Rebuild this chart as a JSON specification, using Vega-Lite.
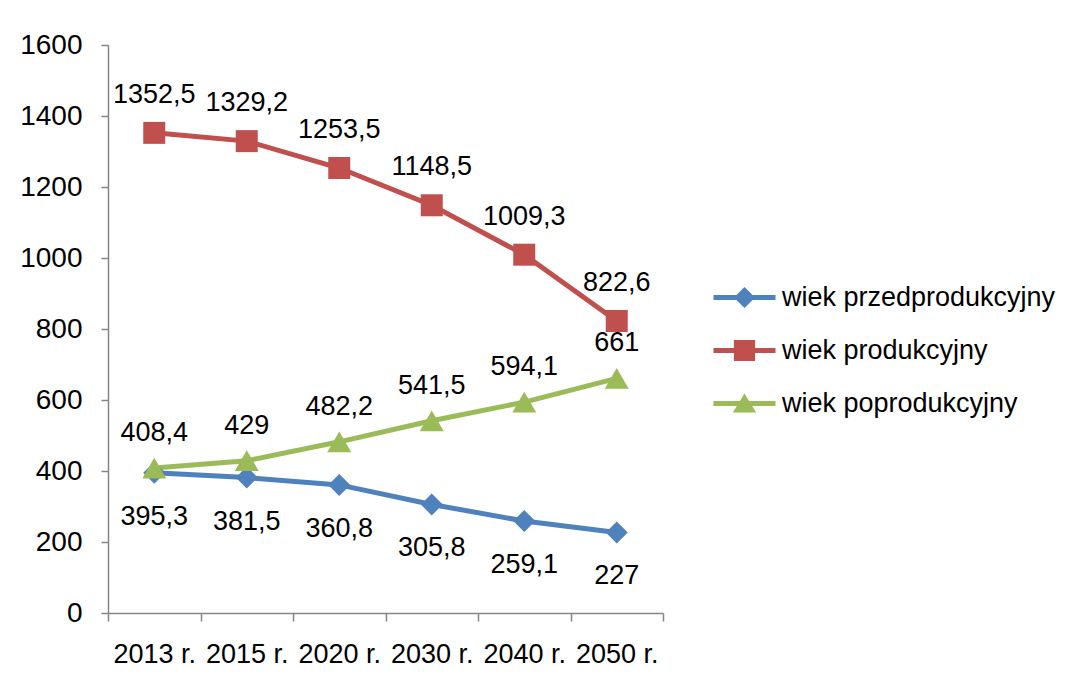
{
  "$schema": "https://vega.github.io/schema/vega-lite/v6.json",
  "width": 555,
  "height": 568,
  "autosize": {"type": "none"},
  "padding": {"left": 108, "top": 45, "right": 412, "bottom": 64},
  "background": "white",
  "config": {
    "view": {"stroke": null},
    "locale": {"number": {"decimal": ",", "thousands": "", "grouping": [3], "currency": ["", ""]}},
    "font": "Liberation Sans"
  },
  "data": {
    "values": [
      {"rok": "2013 r.", "grupa": "wiek przedprodukcyjny", "wartosc": 395.3},
      {"rok": "2015 r.", "grupa": "wiek przedprodukcyjny", "wartosc": 381.5},
      {"rok": "2020 r.", "grupa": "wiek przedprodukcyjny", "wartosc": 360.8},
      {"rok": "2030 r.", "grupa": "wiek przedprodukcyjny", "wartosc": 305.8},
      {"rok": "2040 r.", "grupa": "wiek przedprodukcyjny", "wartosc": 259.1},
      {"rok": "2050 r.", "grupa": "wiek przedprodukcyjny", "wartosc": 227},
      {"rok": "2013 r.", "grupa": "wiek produkcyjny", "wartosc": 1352.5},
      {"rok": "2015 r.", "grupa": "wiek produkcyjny", "wartosc": 1329.2},
      {"rok": "2020 r.", "grupa": "wiek produkcyjny", "wartosc": 1253.5},
      {"rok": "2030 r.", "grupa": "wiek produkcyjny", "wartosc": 1148.5},
      {"rok": "2040 r.", "grupa": "wiek produkcyjny", "wartosc": 1009.3},
      {"rok": "2050 r.", "grupa": "wiek produkcyjny", "wartosc": 822.6},
      {"rok": "2013 r.", "grupa": "wiek poprodukcyjny", "wartosc": 408.4},
      {"rok": "2015 r.", "grupa": "wiek poprodukcyjny", "wartosc": 429},
      {"rok": "2020 r.", "grupa": "wiek poprodukcyjny", "wartosc": 482.2},
      {"rok": "2030 r.", "grupa": "wiek poprodukcyjny", "wartosc": 541.5},
      {"rok": "2040 r.", "grupa": "wiek poprodukcyjny", "wartosc": 594.1},
      {"rok": "2050 r.", "grupa": "wiek poprodukcyjny", "wartosc": 661}
    ]
  },
  "encoding": {
    "x": {
      "field": "rok",
      "type": "nominal",
      "sort": null,
      "scale": {"type": "band", "paddingInner": 0, "paddingOuter": 0},
      "axis": {
        "title": null,
        "labelAngle": 0,
        "tickBand": "extent",
        "domainColor": "#868686",
        "tickColor": "#868686",
        "domainWidth": 1.5,
        "tickWidth": 1.5,
        "tickSize": 8,
        "labelPadding": 20,
        "labelFontSize": 27,
        "labelFont": "Liberation Sans",
        "labelColor": "#000000",
        "labelOverlap": false,
        "labelBaseline": "top"
      }
    },
    "y": {
      "field": "wartosc",
      "type": "quantitative",
      "scale": {"domain": [0, 1600], "nice": false},
      "axis": {
        "title": null,
        "values": [0, 200, 400, 600, 800, 1000, 1200, 1400, 1600],
        "format": "d",
        "grid": false,
        "domainColor": "#868686",
        "tickColor": "#868686",
        "domainWidth": 1.5,
        "tickWidth": 1.5,
        "tickSize": 7,
        "labelPadding": 19,
        "labelFontSize": 28,
        "labelFont": "Liberation Sans",
        "labelColor": "#000000"
      }
    }
  },
  "layer": [
    {
      "mark": {"type": "line", "strokeWidth": 5},
      "encoding": {
        "color": {
          "field": "grupa",
          "type": "nominal",
          "sort": null,
          "scale": {
            "domain": ["wiek przedprodukcyjny", "wiek produkcyjny", "wiek poprodukcyjny"],
            "range": ["#4F81BD", "#C0504D", "#9BBB59"]
          },
          "legend": {
            "title": null,
            "orient": "none",
            "legendX": 610,
            "legendY": 226,
            "padding": 0,
            "rowPadding": 13,
            "symbolSize": 2809,
            "labelOffset": 11,
            "labelFontSize": 27,
            "labelFont": "Liberation Sans",
            "labelColor": "#000000",
            "labelLimit": 400,
            "encode": {
              "symbols": {
                "update": {
                  "shape": {"signal": "datum.value === 'wiek przedprodukcyjny' ? 'M-1.17,-0.094L1.17,-0.094L1.17,0.094L-1.17,0.094Z M0,-0.4L0.4,0L0,0.4L-0.4,0Z' : datum.value === 'wiek produkcyjny' ? 'M-1.17,-0.094L1.17,-0.094L1.17,0.094L-1.17,0.094Z M-0.4,-0.4L0.4,-0.4L0.4,0.4L-0.4,0.4Z' : 'M-1.17,-0.094L1.17,-0.094L1.17,0.094L-1.17,0.094Z M0,-0.38L0.44,0.34L-0.44,0.34Z'"},
                  "size": {"value": 2809},
                  "fill": {"signal": "scale('color', datum.value)"},
                  "fillOpacity": {"value": 1},
                  "stroke": {"value": "transparent"},
                  "strokeWidth": {"value": 0},
                  "opacity": {"value": 1}
                }
              }
            }
          }
        }
      }
    },
    {
      "transform": [{"filter": "datum.grupa === 'wiek przedprodukcyjny'"}],
      "mark": {"type": "point", "filled": true, "opacity": 1, "shape": "diamond", "size": 484},
      "encoding": {"color": {"field": "grupa", "type": "nominal", "legend": null}}
    },
    {
      "transform": [{"filter": "datum.grupa === 'wiek produkcyjny'"}],
      "mark": {"type": "point", "filled": true, "opacity": 1, "shape": "square", "size": 484},
      "encoding": {"color": {"field": "grupa", "type": "nominal", "legend": null}}
    },
    {
      "transform": [{"filter": "datum.grupa === 'wiek poprodukcyjny'"}],
      "mark": {"type": "point", "filled": true, "opacity": 1, "shape": "triangle-up", "size": 576},
      "encoding": {"color": {"field": "grupa", "type": "nominal", "legend": null}}
    },
    {
      "transform": [{"filter": "datum.grupa === 'wiek przedprodukcyjny'"}],
      "mark": {"type": "text", "dy": 44, "fontSize": 27, "font": "Liberation Sans", "color": "#000000", "baseline": "middle"},
      "encoding": {"text": {"field": "wartosc", "type": "quantitative", "format": ".1~f"}}
    },
    {
      "transform": [{"filter": "datum.grupa === 'wiek produkcyjny'"}],
      "mark": {"type": "text", "dy": -38, "fontSize": 27, "font": "Liberation Sans", "color": "#000000", "baseline": "middle"},
      "encoding": {"text": {"field": "wartosc", "type": "quantitative", "format": ".1~f"}}
    },
    {
      "transform": [{"filter": "datum.grupa === 'wiek poprodukcyjny'"}],
      "mark": {"type": "text", "dy": -35, "fontSize": 27, "font": "Liberation Sans", "color": "#000000", "baseline": "middle"},
      "encoding": {"text": {"field": "wartosc", "type": "quantitative", "format": ".1~f"}}
    }
  ]
}
